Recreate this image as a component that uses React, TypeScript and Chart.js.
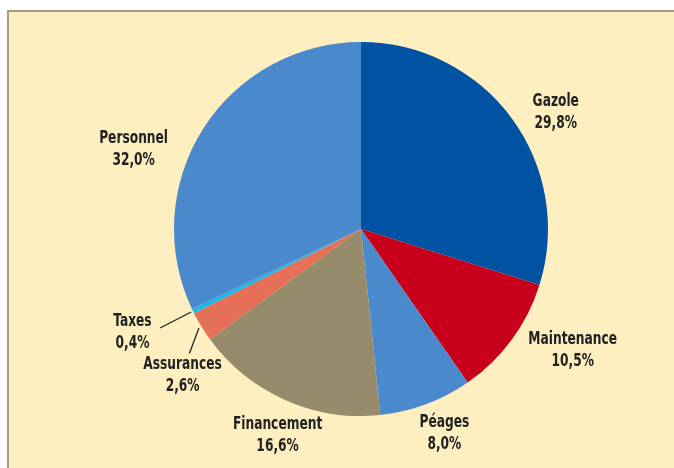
import React, { useEffect, useRef } from "react";
import { Chart, registerables } from "chart.js";

Chart.register(...registerables);

const categories = ["Gazole", "Maintenance", "Péages", "Financement", "Assurances", "Taxes", "Personnel"];
const values = [29.8, 10.5, 8.0, 16.6, 2.6, 0.4, 32.0];
const valueLabels = ["29,8%", "10,5%", "8,0%", "16,6%", "2,6%", "0,4%", "32,0%"];
const colors = ["#0052A2", "#C8001C", "#4A89CC", "#968B6B", "#E66F58", "#1CB6EA", "#4A89CC"];

// label placement: [distance from centre, angle shift in degrees]
const labelPlacement: [number, number][] = [
  [227, 5.4],
  [244, -6.5],
  [221, -1.8],
  [223, -2],
  [231, -8],
  [251, 1.6],
  [241, -13],
];
// leader lines: [start radius, end distance, end angle shift]
const leaderLines: Record<number, [number, number, number]> = {
  4: [190, 212, -4.5],
  5: [189, 224, -0.2],
};

const FONT = "bold 17px 'DejaVu Sans Condensed', 'Liberation Sans Narrow', sans-serif";
const X_SCALE = 0.8;

const bgPlugin = {
  id: "panelBg",
  beforeDraw(chart: any) {
    const { ctx, width, height } = chart;
    ctx.save();
    ctx.fillStyle = "#ffffff";
    ctx.fillRect(0, 0, width, height);
    ctx.fillStyle = "#FEEFC0";
    ctx.fillRect(8, 11, width, height);
    ctx.strokeStyle = "#A59F86";
    ctx.lineWidth = 2;
    ctx.beginPath();
    ctx.moveTo(8, height + 5);
    ctx.lineTo(8, 11);
    ctx.lineTo(width + 5, 11);
    ctx.stroke();
    ctx.restore();
  },
};

const labelPlugin = {
  id: "sliceLabels",
  afterDraw(chart: any) {
    const { ctx } = chart;
    const meta = chart.getDatasetMeta(0);
    meta.data.forEach((arc: any, i: number) => {
      const { x, y, startAngle, endAngle } = arc.getProps(["x", "y", "startAngle", "endAngle"], true);
      const mid = (startAngle + endAngle) / 2;
      const [dist, shift] = labelPlacement[i];
      const a = mid + (shift * Math.PI) / 180;
      const lx = x + Math.cos(a) * dist;
      const ly = y + Math.sin(a) * dist;
      ctx.save();
      ctx.font = FONT;
      ctx.fillStyle = "#222222";
      ctx.textAlign = "center";
      ctx.textBaseline = "middle";
      ctx.translate(lx, ly);
      ctx.scale(X_SCALE, 1);
      ctx.fillText(categories[i], 0, -11);
      ctx.fillText(valueLabels[i], 0, 11);
      ctx.restore();
      const ll = leaderLines[i];
      if (ll) {
        const [r0, d1, s1] = ll;
        const a1 = mid + (s1 * Math.PI) / 180;
        ctx.save();
        ctx.strokeStyle = "#222222";
        ctx.lineWidth = 1.3;
        ctx.beginPath();
        ctx.moveTo(x + Math.cos(mid) * r0, y + Math.sin(mid) * r0);
        ctx.lineTo(x + Math.cos(a1) * d1, y + Math.sin(a1) * d1);
        ctx.stroke();
        ctx.restore();
      }
    });
  },
};

export default function App() {
  const ref = useRef<HTMLCanvasElement>(null);
  useEffect(() => {
    document.body.style.margin = "0";
    const chart = new Chart(ref.current!, {
      type: "pie",
      data: {
        labels: categories,
        datasets: [
          {
            data: values,
            backgroundColor: colors,
            borderWidth: 0,
          },
        ],
      },
      options: {
        animation: false,
        responsive: false,
        layout: { padding: { left: 100, right: 52, top: 42, bottom: 52 } },
        plugins: {
          legend: { display: false },
          tooltip: { enabled: false },
        },
      },
      plugins: [bgPlugin, labelPlugin],
    });
    return () => chart.destroy();
  }, []);
  return (
    <div style={{ width: 674, height: 468 }}>
      <canvas ref={ref} width={674} height={468} />
    </div>
  );
}
